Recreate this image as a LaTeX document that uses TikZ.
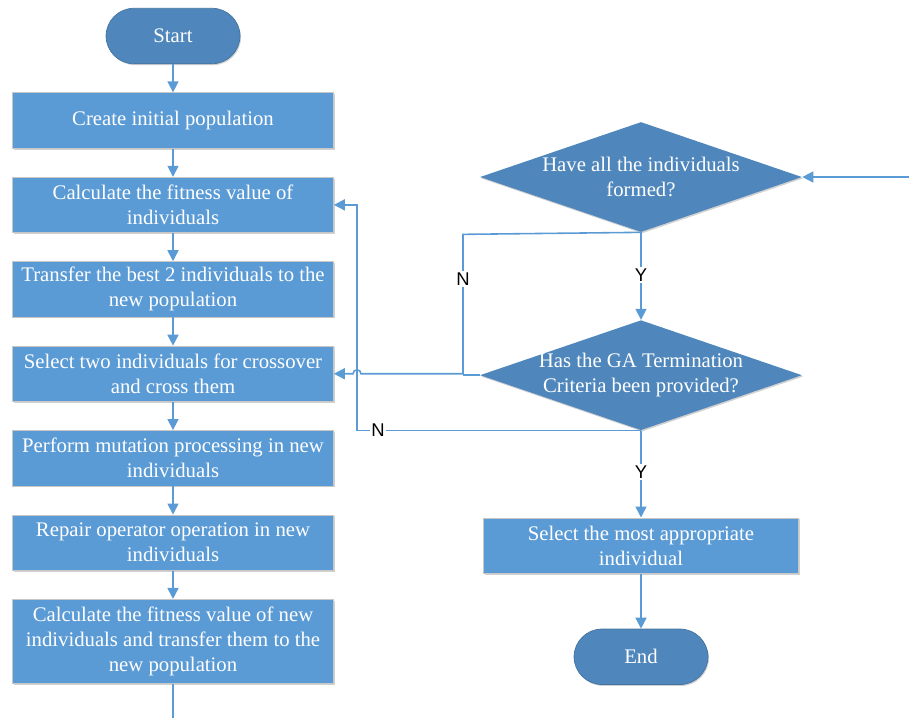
\documentclass[tikz,border=0pt]{standalone}
\usepackage{fontspec}
\setmainfont{Liberation Serif}
\setsansfont{Liberation Sans}
\usetikzlibrary{positioning}
\usetikzlibrary{calc}
\usetikzlibrary{shapes.geometric}
\usetikzlibrary{arrows.meta}
\usetikzlibrary{shadows}
\definecolor{box colour}{HTML}{5B9BD5}
\definecolor{term colour}{HTML}{4F87BC}
\definecolor{line colour}{HTML}{5B9BD5}
\colorlet{edge colour}{black!22}
\newcommand{\boxfont}{\fontsize{11.8}{14.2}\selectfont}
\newcommand{\answerfont}{\sffamily\fontsize{10.5}{12}\selectfont}
\tikzset{
    % Small filled triangles on every connector
    >={Triangle[length=2.2mm, width=2.2mm]},
%
    % Fills
    box fill/.style={fill=box colour},
    term fill/.style={fill=term colour},
    soft shadow/.style={drop shadow={opacity=0.18, fill=black,
        shadow xshift=0.6pt, shadow yshift=-0.8pt}},
    % Lines
    flow/.style={draw=line colour, line width=0.9pt},
%
    % We almost always want centre aligned node text
    every node/.style={align=center},
}

\begin{document}
\begin{tikzpicture}[
    x=0.02cm, y=0.02cm,
    node distance=0.565cm,
    process/.style={box fill, draw=edge colour, thin, soft shadow,
        text=white, font=\boxfont, inner sep=0,
        minimum width=6.42cm, minimum height=1.11cm},
    terminal/.style={term fill, draw=term colour!85!black, thin, soft shadow,
        rounded corners=0.56cm, text=white, font=\boxfont,
        minimum width=2.68cm, minimum height=1.11cm},
    decision/.style={diamond, term fill, soft shadow, inner sep=0,
        minimum width=6.44cm, minimum height=2.2cm},
    question/.style={text=white, font=\boxfont},
    answer/.style={fill=white, text=black, font=\answerfont, inner sep=1pt},
]
\useasboundingbox (0,0) rectangle (909,-718);

% Left column: the main loop of the algorithm
\node [terminal] (start) at (173,-36) {Start};
\node [process, below=of start] (b1) {Create initial population};
\node [process, below=of b1] (b2) {Calculate the fitness value of\\individuals};
\node [process, below=of b2] (b3) {Transfer the best 2 individuals to the\\new population};
\node [process, below=of b3] (b4) {Select two individuals for crossover\\and cross them};
\node [process, below=of b4] (b5) {Perform mutation processing in new\\individuals};
\node [process, below=of b5] (b6) {Repair operator operation in new\\individuals};
\node [process, below=of b6, minimum height=1.68cm] (b7)
    {Calculate the fitness value of new\\individuals and transfer them to the\\new population};
\coordinate (tail) at (173,-718);

% Right column: the two checks and the end
\node [decision, label={[question]center:Have all the individuals\\formed?}]
    (d1) at (641,-177) {};
\node [decision, below=1.75cm of d1,
    label={[question]center:Has the GA Termination\\Criteria been provided?}] (d2) {};
\node [process, below=1.74cm of d2, minimum width=6.3cm] (sel)
    {Select the most appropriate\\individual};
\node [terminal, below=1.1cm of sel] (end) {End};
\coordinate (entry) at (909,-177);

% Rails for the two N branches
\coordinate (inner rail) at (463,0);
\coordinate (outer rail) at (357,0);

\foreach \from/\to in {start/b1, b1/b2, b2/b3, b3/b4, b4/b5, b5/b6, b6/b7, sel/end}
{
    \draw [flow, ->] (\from) -- (\to);
}
\draw [flow] (b7) -- (tail);
\draw [flow, ->] (entry) -- (d1);

\draw [flow, ->] (d1) -- node [answer, pos=0.49] {Y} (d2);
\draw [flow, ->] (d2) -- node [answer, pos=0.48] {Y} (sel);

% N of the first check goes back to crossover, hopping the outer rail
\draw [flow, ->] (d1.south) -- ($(d1.south -| inner rail)+(0,-2)$)
    -- node [answer, pos=0.32] {N} (inner rail |- b4.east)
    -- ($(outer rail |- b4.east)+(4,0)$)
    arc [start angle=0, end angle=180, radius=0.08cm]
    -- (b4.east);
\draw [flow] (d2.west) -- (inner rail |- d2.west);

% N of the second check goes back to the fitness step
\draw [flow, ->] (d2.south) -- node [answer, pos=0.926] {N} (d2.south -| outer rail)
    -- (outer rail |- b2.east) -- (b2.east);

\end{tikzpicture}
\end{document}
